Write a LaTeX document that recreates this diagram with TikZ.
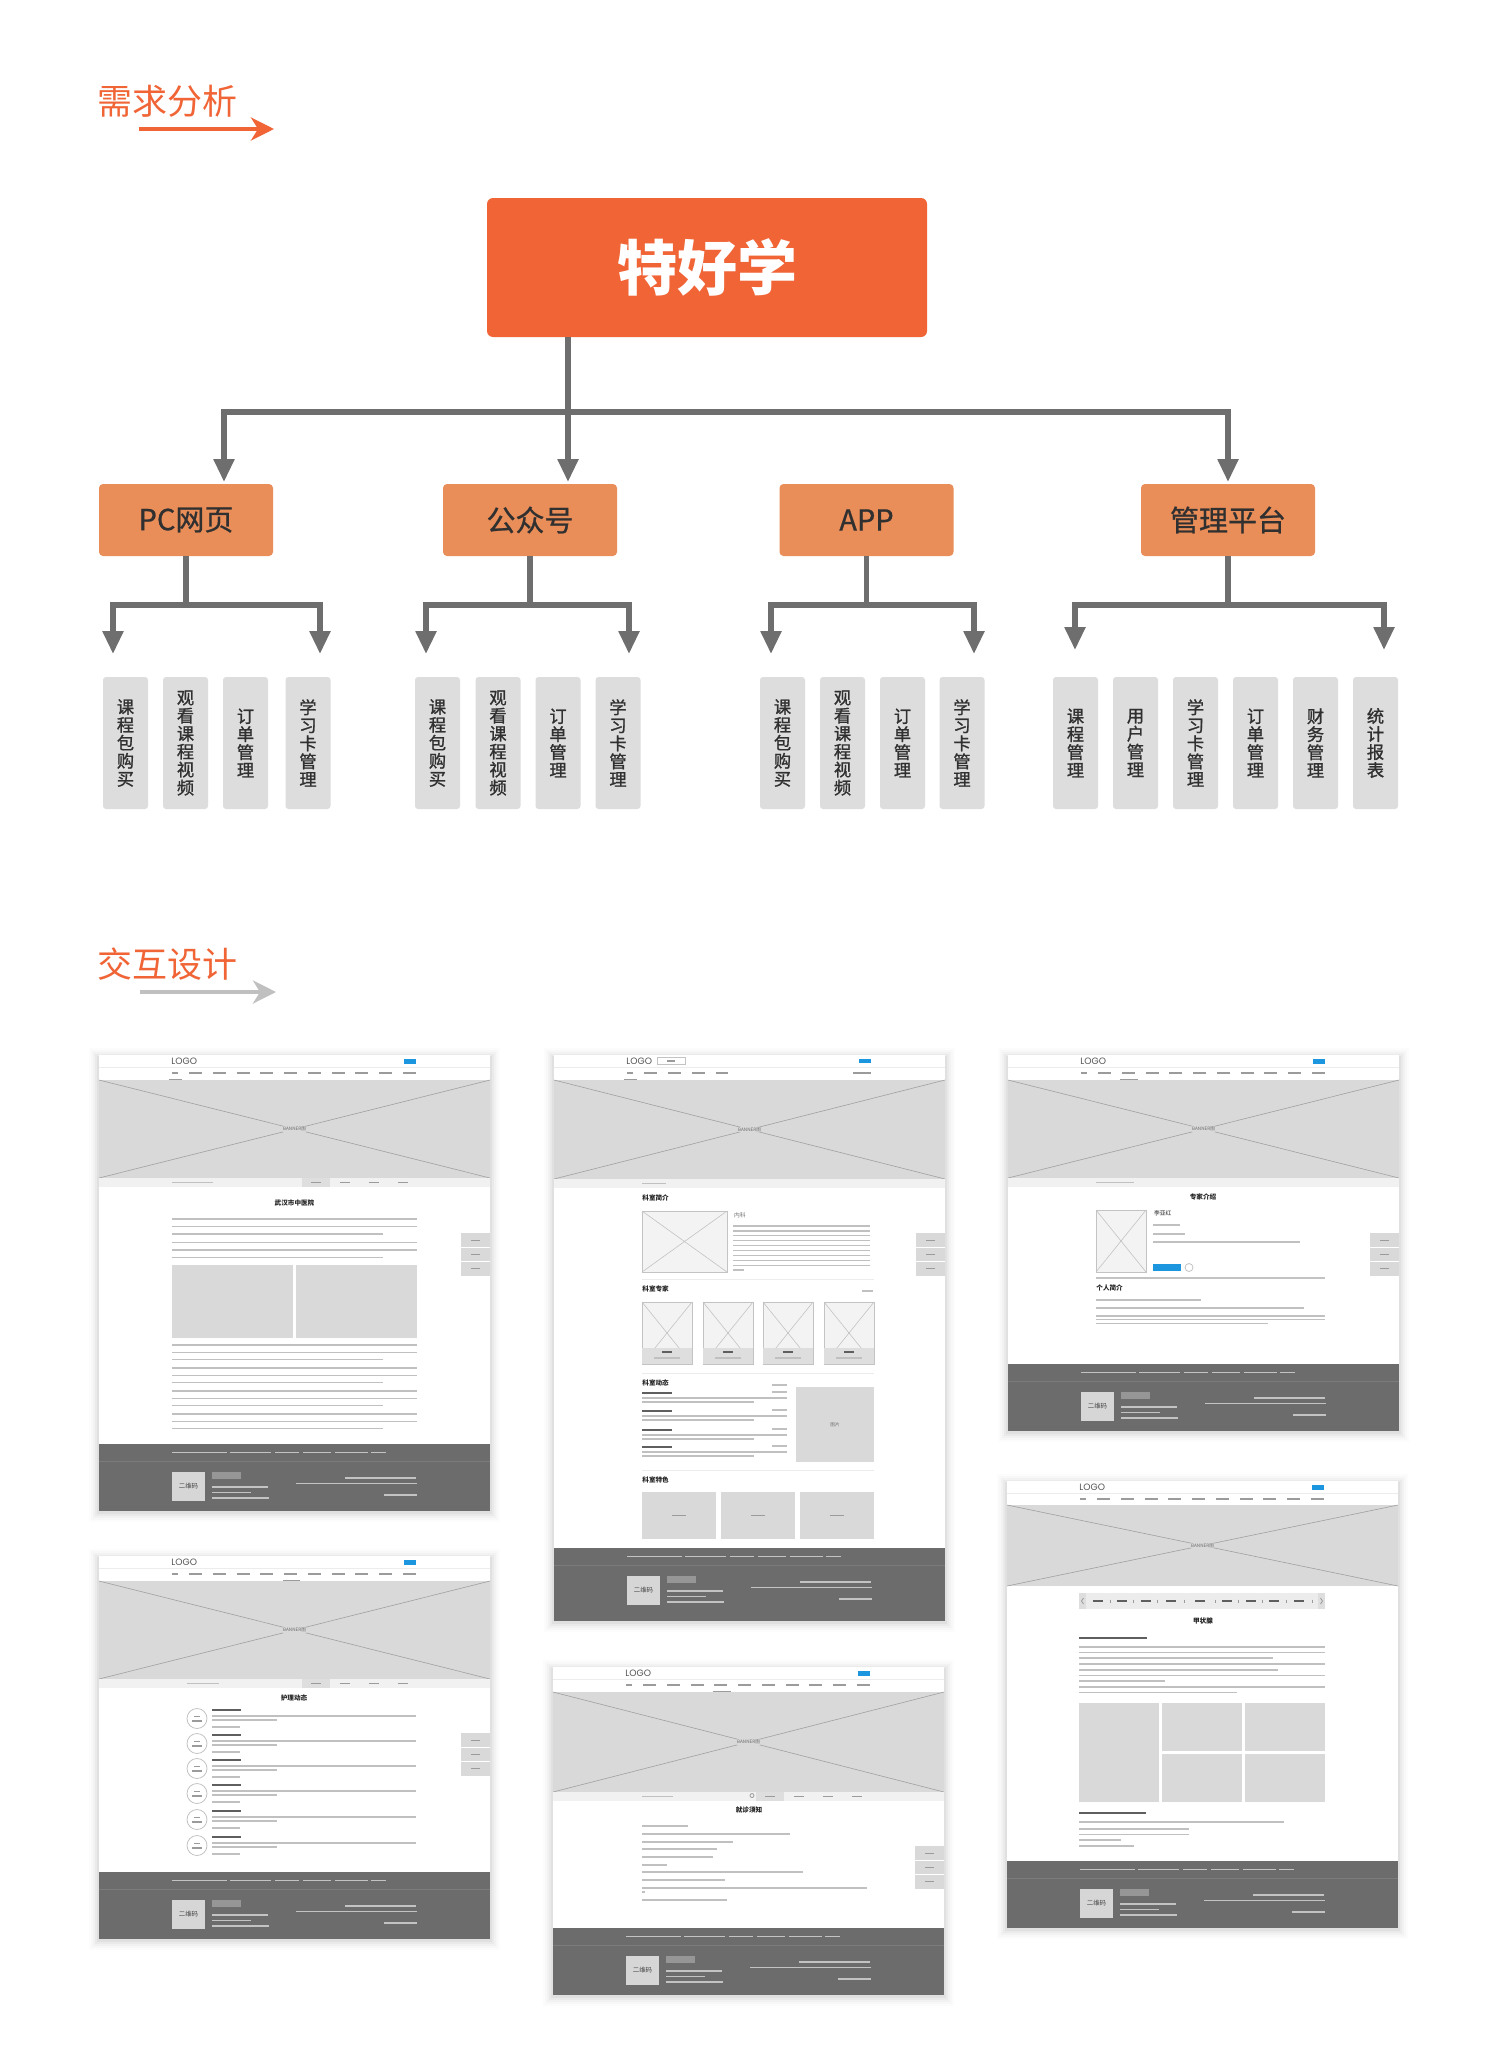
\documentclass[tikz,border=0pt]{standalone}
\usepackage{fontspec}
\setmainfont{Noto Sans CJK SC}
\newfontfamily\cjkmed[FakeBold=1.3]{Noto Sans CJK SC}
\newfontfamily\cjkmid[FakeBold=0.8]{Noto Sans CJK SC}
\newfontfamily\logofont{Poppins}
\usetikzlibrary{arrows.meta}
\definecolor{orT}{RGB}{240,100,54}
\definecolor{orB}{RGB}{233,141,89}
\definecolor{cg}{RGB}{110,110,110}
\definecolor{gbox}{RGB}{221,221,221}
\definecolor{txt}{RGB}{48,48,48}
\definecolor{arrg}{RGB}{192,192,192}
\definecolor{wfg}{RGB}{217,217,217}
\definecolor{wfx}{RGB}{160,160,160}
\definecolor{wff}{RGB}{108,108,108}
\definecolor{wfb}{RGB}{28,150,222}
\definecolor{tlc}{RGB}{192,192,192}
\definecolor{tdk}{RGB}{95,95,95}
\definecolor{ftc}{RGB}{195,195,195}
\definecolor{subc}{RGB}{241,241,241}
\definecolor{tabc}{RGB}{222,222,222}
\definecolor{hl}{RGB}{236,236,236}
\definecolor{phf}{RGB}{243,243,243}
\definecolor{phd}{RGB}{195,195,195}
\definecolor{qrf}{RGB}{214,214,214}
\definecolor{btng}{RGB}{150,150,150}
\definecolor{sepc}{RGB}{124,124,124}
\definecolor{navc}{RGB}{155,155,155}
\definecolor{logoc}{RGB}{85,85,85}
\definecolor{titc}{RGB}{34,34,34}
\definecolor{smc}{RGB}{110,110,110}
\definecolor{qrt}{RGB}{68,68,68}
\tikzset{
 conn/.style={draw=cg,line width=2.7pt},
 connA/.style={conn,-{Triangle[length=11.5pt,width=10pt]}},
 sectt/.style={text=orT,font=\fontsize{17.5pt}{17.5pt}\selectfont,anchor=west,inner sep=0pt},
 rootbox/.style={fill=orT,minimum width=220pt,minimum height=69.5pt,rounded corners=3pt,text=white,font=\fontsize{30pt}{30pt}\selectfont\bfseries,inner sep=0pt},
 midbox/.style={fill=orB,minimum width=87pt,minimum height=36pt,rounded corners=2pt,text=txt,font=\cjkmid\fontsize{14.5pt}{14.5pt}\selectfont,inner sep=0pt},
 leaf/.style={fill=gbox,minimum width=22.5pt,minimum height=66pt,rounded corners=1.5pt,text=txt,font=\cjkmed\fontsize{8.6pt}{9pt}\selectfont,align=center,inner sep=0pt},
 tline/.style={draw=tlc,line width=0.65pt},
 tbold/.style={draw=tdk,line width=0.9pt},
 ftline/.style={draw=ftc,line width=0.55pt},
 navl/.style={draw=navc,line width=0.65pt},
 logo/.style={font=\logofont\fontsize{4.6pt}{4.6pt}\selectfont,text=logoc,anchor=west,inner sep=0pt},
 wft/.style={font=\fontsize{3.3pt}{3.3pt}\selectfont\bfseries,text=titc,inner sep=0pt},
 wfs/.style={font=\fontsize{2.3pt}{2.3pt}\selectfont,text=smc,inner sep=0.3pt},
 qr/.style={fill=qrf,minimum width=16.5pt,minimum height=14.5pt,inner sep=0pt,font=\fontsize{3.2pt}{3.2pt}\selectfont,text=qrt},
 phbox/.style={fill=phf,draw=phd,line width=0.3pt},
}
\newcommand\wfbase[1]{%
  \foreach \s/\o in {10/0.012,8/0.016,6/0.022,4/0.03,2/0.04}{%
    \fill[black,opacity=\o] ({-\s},{-\s+3}) rectangle ({391+\s},{#1+\s+1});}%
  \fill[white] (0,0) rectangle (391,#1);}
\newcommand\wfnav{%
  \draw[navl] (73,18) -- (79,18);
  \foreach \i in {0,...,9}{\draw[navl] ({90+\i*23.75},18) -- ({103+\i*23.75},18);}}
\newcommand\wfhead[1]{%
  \draw[hl,line width=0.4pt] (0,12) -- (391,12);
  \node[logo] (#1logo) at (72,6.5) {LOGO};
  \fill[wfb] (305,4) rectangle (317,8.5);
  \wfnav}
\newcommand\wfban[3]{%
  \fill[wfg] (0,#2) rectangle (391,#3);
  \draw[wfx,line width=0.3pt] (0,#2) -- (391,#3) (0,#3) -- (391,#2);
  \node[wfs,fill=wfg] (#1ban) at (195.5,{(#2+#3)/2}) {BANNER图};}
\newcommand\wfsub[3]{%
  \fill[subc] (0,#1) rectangle (391,{#1+9});
  \draw[tline] (#2,{#1+4.5}) -- (#3,{#1+4.5});}
\newcommand\wftabs[1]{%
  \fill[tabc] (203,#1) rectangle (231,{#1+9});
  \foreach \x in {217,245.5,274.5,303.5}{\draw[navl] ({\x-5},{#1+4.5}) -- ({\x+5},{#1+4.5});}}
\newcommand\wfside[1]{%
  \fill[wfg] (362,#1) rectangle (391,{#1+43});
  \draw[white,line width=0.5pt] (362,{#1+14.3}) -- (391,{#1+14.3}) (362,{#1+28.7}) -- (391,{#1+28.7});
  \foreach \k in {7.2,21.5,35.8}{\draw[navl] (372,{#1+\k}) -- (381,{#1+\k});}}
\newcommand\wfpara[6]{%
  \foreach \i in {1,...,#3}{%
    \pgfmathsetmacro\yy{#1+(\i-1)*#2}%
    \ifnum\i=#3\relax \draw[tline] (#4,\yy) -- (#6,\yy);%
    \else \draw[tline] (#4,\yy) -- (#5,\yy);\fi}}
\newcommand\wfph[4]{%
  \draw[phbox] (#1,#2) rectangle (#3,#4);
  \draw[phd,line width=0.3pt] (#1,#2) -- (#3,#4) (#1,#4) -- (#3,#2);}
\newcommand\wffoot[3]{%
  \fill[wff] (0,#2) rectangle (391,#3);
  \foreach \a/\b in {73/128,131/172,176/200,204/232,236/269,272/287}{\draw[ftline] (\a,{#2+8.5}) -- (\b,{#2+8.5});}
  \draw[sepc,line width=0.4pt] (0,{#2+17}) -- (391,{#2+17});
  \node[qr] (#1qr) at (89.5,{#2+42.5}) {二维码};
  \fill[btng] (113,{#2+28}) rectangle (142,{#2+35});
  \draw[ftline] (113,{#2+43}) -- (169,{#2+43});
  \draw[ftline] (113,{#2+48.5}) -- (152,{#2+48.5});
  \draw[ftline] (113,{#2+54}) -- (170,{#2+54});
  \draw[ftline] (246,{#2+34}) -- (317,{#2+34});
  \draw[ftline] (197,{#2+39.5}) -- (318,{#2+39.5});
  \draw[ftline] (285,{#2+51}) -- (318,{#2+51});}

\begin{document}
\begin{tikzpicture}[x=0.5pt,y=-0.5pt]
\useasboundingbox (0,0) rectangle (1500,2071);
\fill[white] (0,0) rectangle (1500,2071);

% ---------- section 1 ----------
\node[sectt] (s1) at (97,101) {需求分析};
\coordinate (s1a) at (139,129);
\coordinate (s1b) at (274,129);
\draw[orT,line width=2pt,-{Stealth[length=11.5pt,width=11.5pt,inset=3.5pt]}] (s1a) -- (s1b);

\node[rootbox] (root) at (707,267.5) {特好学};
\node[midbox] (pc) at (186,520) {PC网页};
\node[midbox] (gzh) at (530,520) {公众号};
\node[midbox] (app) at (866.5,520) {APP};
\node[midbox] (glpt) at (1228,520) {管理平台};

\coordinate (j0) at (568,412);
\coordinate (pcin) at (224,482);
\coordinate (gzhin) at (568,482);
\coordinate (glin) at (1228,482);
\draw[conn] (root.south -| j0) -- (j0);
\draw[connA] (j0) -| (pcin);
\draw[connA] (j0) -- (gzhin);
\draw[connA] (j0) -| (glin);

% second level branches
\coordinate (pcj) at (186,605);
\coordinate (pcL) at (113,654);
\coordinate (pcR) at (320,654);
\draw[conn] (pc.south) -- (pcj);
\draw[connA] (pcj) -| (pcL);
\draw[connA] (pcj) -| (pcR);

\coordinate (gzhj) at (530,605);
\coordinate (gzhL) at (426,654);
\coordinate (gzhR) at (629,654);
\draw[conn] (gzh.south) -- (gzhj);
\draw[connA] (gzhj) -| (gzhL);
\draw[connA] (gzhj) -| (gzhR);

\coordinate (appj) at (866.5,605);
\coordinate (appL) at (771,654);
\coordinate (appR) at (974,654);
\draw[conn] (app.south) -- (appj);
\draw[connA] (appj) -| (appL);
\draw[connA] (appj) -| (appR);

\coordinate (glj) at (1228,605);
\coordinate (glL) at (1075,650);
\coordinate (glR) at (1384,650);
\draw[conn] (glpt.south) -- (glj);
\draw[connA] (glj) -| (glL);
\draw[connA] (glj) -| (glR);

% leaves
\node[leaf] (pc1) at (125.5,743) {课\\程\\包\\购\\买};
\node[leaf] (pc2) at (185.5,743) {观\\看\\课\\程\\视\\频};
\node[leaf] (pc3) at (245.5,743) {订\\单\\管\\理};
\node[leaf] (pc4) at (308,743) {学\\习\\卡\\管\\理};
\node[leaf] (gz1) at (437.5,743) {课\\程\\包\\购\\买};
\node[leaf] (gz2) at (498,743) {观\\看\\课\\程\\视\\频};
\node[leaf] (gz3) at (558,743) {订\\单\\管\\理};
\node[leaf] (gz4) at (618,743) {学\\习\\卡\\管\\理};
\node[leaf] (ap1) at (782.5,743) {课\\程\\包\\购\\买};
\node[leaf] (ap2) at (842.5,743) {观\\看\\课\\程\\视\\频};
\node[leaf] (ap3) at (902.5,743) {订\\单\\管\\理};
\node[leaf] (ap4) at (962,743) {学\\习\\卡\\管\\理};
\node[leaf] (gl1) at (1075.5,743) {课\\程\\管\\理};
\node[leaf] (gl2) at (1135.5,743) {用\\户\\管\\理};
\node[leaf] (gl3) at (1195.5,743) {学\\习\\卡\\管\\理};
\node[leaf] (gl4) at (1255.5,743) {订\\单\\管\\理};
\node[leaf] (gl5) at (1315.5,743) {财\\务\\管\\理};
\node[leaf] (gl6) at (1375.5,743) {统\\计\\报\\表};

% ---------- section 2 ----------
\node[sectt] (s2) at (97,964) {交互设计};
\coordinate (s2a) at (140,992);
\coordinate (s2b) at (276,992);
\draw[arrg,line width=2.2pt,-{Stealth[length=11.5pt,width=11.5pt,inset=3.5pt]}] (s2a) -- (s2b);

% ---- page 1 ----
\begin{scope}[shift={(99,1055)}]
\wfbase{456}
\wfhead{pa}
\draw[navl] (70,24.5) -- (83,24.5);
\wfban{pa}{25}{123}
\wfsub{123}{73}{114}
\wftabs{123}
\node[wft] (patitle) at (195.5,148) {武汉市中医院};
\wfpara{164}{7.5}{3}{73}{318}{284}
\wfpara{187.5}{7.5}{3}{73}{318}{284}
\fill[wfg] (73,210) rectangle (194,283);
\fill[wfg] (197,210) rectangle (318,283);
\wfpara{290}{7.2}{3}{73}{318}{284}
\wfpara{313}{7.2}{3}{73}{318}{284}
\wfpara{336}{7.2}{3}{73}{318}{284}
\wfpara{359}{7.2}{3}{73}{318}{284}
\wfside{178}
\wffoot{pa}{389}{456}
\end{scope}

% ---- page 2 ----
\begin{scope}[shift={(554,1055)}]
\wfbase{566}
\draw[hl,line width=0.4pt] (0,12) -- (391,12);
\node[logo] (pblogo) at (72,6) {LOGO};
\draw[phd,fill=white,line width=0.3pt] (103,2.5) rectangle (131,9.5);
\draw[navl] (113,6) -- (121,6);
\fill[wfb] (305,3.5) rectangle (317,8);
\foreach \a/\b in {73/79,90/103,114/127,138/151,162/174,299/317}{\draw[navl] (\a,18) -- (\b,18);}
\draw[navl] (70,24.5) -- (83,24.5);
\wfban{pb}{25}{124}
\wfsub{124}{88}{112}
\node[wft,anchor=west] (pbh1) at (88,143) {科室简介};
\wfph{88}{156}{173}{217}
\node[wfs,anchor=west,font=\fontsize{2.9pt}{2.9pt}\selectfont] (pbnk) at (179,160) {内科};
\wfpara{171}{4.9}{10}{179}{316}{190}
\draw[hl,line width=0.5pt] (88,224) -- (320,224);
\node[wft,anchor=west] (pbh2) at (88,234) {科室专家};
\draw[tline] (308,236) -- (319,236);
\foreach \x in {88,149,209,270}{%
  \wfph{\x}{247}{\x+50}{309}
  \fill[tabc] (\x+0.3,293) rectangle (\x+49.7,308.7);
  \draw[tbold] (\x+20,297) -- (\x+30,297);
  \draw[tline] (\x+12,303) -- (\x+38,303);}
\draw[hl,line width=0.5pt] (88,318) -- (320,318);
\node[wft,anchor=west] (pbh3) at (88,328) {科室动态};
\draw[tline] (218,330) -- (233,330);
\foreach \y in {338,356,375,392}{%
  \draw[tbold] (88,\y) -- (118,\y);
  \draw[tline] (218,\y-1) -- (233,\y-1);
  \draw[tline] (88,\y+5) -- (233,\y+5);
  \draw[tline] (88,\y+9) -- (200,\y+9);}
\fill[wfg] (242,332) rectangle (320,407);
\node[wfs,fill=wfg] (pbimg) at (281,369.5) {图片};
\draw[hl,line width=0.5pt] (88,415) -- (320,415);
\node[wft,anchor=west] (pbh4) at (88,425) {科室特色};
\foreach \x in {88,167,246}{%
  \fill[wfg] (\x,437) rectangle (\x+74,484);
  \draw[navl] (\x+30,460.5) -- (\x+44,460.5);}
\wfside{178}
\wffoot{pb}{493}{566}
\end{scope}

% ---- page 3 ----
\begin{scope}[shift={(1008,1055)}]
\wfbase{376}
\wfhead{pc}
\draw[navl] (112,24.5) -- (130,24.5);
\wfban{pc}{25}{123}
\wfsub{123}{88}{126}
\node[wft] (pctitle) at (195,142) {专家介绍};
\wfph{88}{155}{138}{217}
\node[wfs,anchor=west,font=\fontsize{2.9pt}{2.9pt}\selectfont,text=titc] (pcname) at (145,158) {李亚红};
\draw[tline] (145,170) -- (172,170);
\draw[tline] (145,179) -- (177,179);
\draw[tline] (145,187) -- (292,187);
\fill[wfb] (145,209) rectangle (173,216);
\draw[phd,fill=white,line width=0.4pt] (181,212.5) circle (4);
\draw[phd,line width=0.6pt] (88,223) -- (317,223);
\node[wft,anchor=west] (pch2) at (88,233) {个人简介};
\draw[tline] (88,245) -- (193,245);
\draw[tline] (88,253) -- (296,253);
\wfpara{261}{3.6}{3}{88}{317}{260}
\wfside{178}
\wffoot{pc}{309}{376}
\end{scope}

% ---- page 4 ----
\begin{scope}[shift={(99,1556)}]
\wfbase{383}
\wfhead{pd}
\draw[navl] (184,24.5) -- (201,24.5);
\wfban{pd}{25}{123}
\wfsub{123}{88}{120}
\wftabs{123}
\node[wft] (pdtitle) at (195,142) {护理动态};
\foreach \y in {154,179,204,229,255,281}{%
  \draw[phd,fill=white,line width=0.4pt] (98,\y+8.5) circle (10);
  \draw[navl,line width=0.5pt] (95,\y+6) -- (101,\y+6);
  \draw[navl,line width=0.6pt] (93,\y+11) -- (103,\y+11);
  \draw[tbold] (113,\y) -- (142,\y);
  \draw[tline] (113,\y+6) -- (317,\y+6);
  \draw[tline] (113,\y+10) -- (178,\y+10);
  \draw[tline] (113,\y+17) -- (141,\y+17);}
\wfside{177}
\wffoot{pd}{316}{383}
\end{scope}

% ---- page 5 ----
\begin{scope}[shift={(553,1667)}]
\wfbase{328}
\wfhead{pe}
\draw[navl] (160,24.5) -- (178,24.5);
\wfban{pe}{25}{125}
\wfsub{125}{89}{120}
\wftabs{125}
\draw[navc,line width=0.4pt] (199,128.5) circle (2);
\node[wft] (petitle) at (196,143) {就诊须知};
\foreach \y/\e in {159/135,167/237,175/180,182/164,190/160,198/114,205/250,213/172,221/314,225/92,233/174}{%
  \draw[tline] (89,\y) -- (\e,\y);}
\wfside{179}
\wffoot{pe}{261}{328}
\end{scope}

% ---- page 6 ----
\begin{scope}[shift={(1007,1481)}]
\wfbase{447}
\wfhead{pf}
\wfban{pf}{24}{105}
\fill[hl] (72,112) rectangle (318,128);
\fill[tabc] (72,112) rectangle (79,128);
\fill[tabc] (311,112) rectangle (318,128);
\draw[navl,line width=0.4pt] (76.5,117) -- (74.5,120) -- (76.5,123);
\draw[navl,line width=0.4pt] (313.5,117) -- (315.5,120) -- (313.5,123);
\foreach \c in {91,115,139,164,193,220,244,267,292}{\draw[tdk,line width=0.7pt] (\c-5,120) -- (\c+5,120);}
\foreach \c in {103,126,150,177,208,231,255,279,305}{\draw[navl,line width=0.3pt] (\c,118.5) -- (\c,121.5);}
\node[wft] (pftitle) at (196,140) {甲状腺};
\draw[tbold] (72,157) -- (140,157);
\foreach \y/\e in {166/318,171.5/318,177/266,183/318,189/271,194.5/318,200/158,206/318,211.5/230}{%
  \draw[tline] (72,\y) -- (\e,\y);}
\fill[wfg] (72,222) rectangle (152,321);
\fill[wfg] (155,222) rectangle (235,270);
\fill[wfg] (238,222) rectangle (318,270);
\fill[wfg] (155,273) rectangle (235,321);
\fill[wfg] (238,273) rectangle (318,321);
\draw[tbold] (72,332) -- (139,332);
\foreach \y/\e in {341/277,348/182,353.5/182,359/114,365/127}{%
  \draw[tline] (72,\y) -- (\e,\y);}
\wffoot{pf}{380}{447}
\end{scope}
\end{tikzpicture}
\end{document}
